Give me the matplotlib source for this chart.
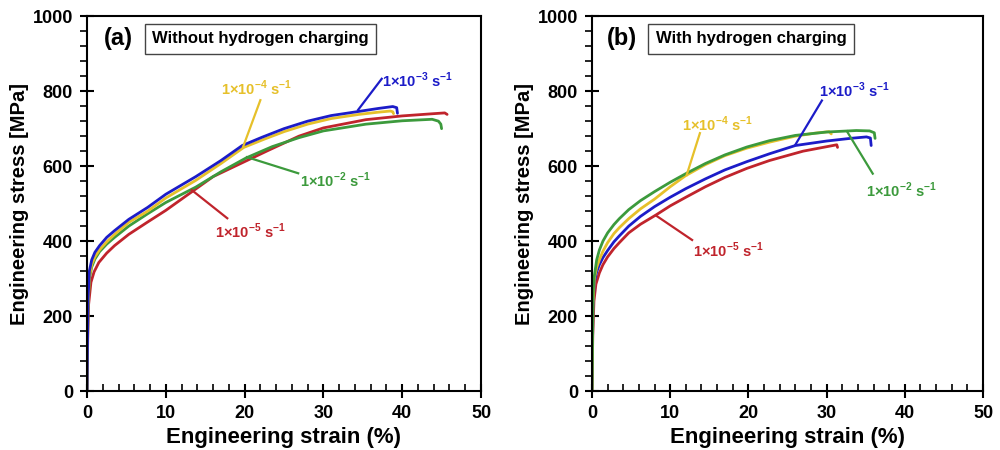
import numpy as np
import matplotlib
matplotlib.use('Agg')
import matplotlib.pyplot as plt
from matplotlib.ticker import MultipleLocator

plt.rcParams['font.family'] = ['Liberation Sans', 'DejaVu Sans']
plt.rcParams['font.weight'] = 'bold'
plt.rcParams['mathtext.fontset'] = 'custom'
plt.rcParams['mathtext.rm'] = 'Liberation Sans:bold'
plt.rcParams['mathtext.bf'] = 'Liberation Sans:bold'

#---- colours per strain rate
c_blue = '#1c1cc8'
c_yel = '#e6c02a'
c_grn = '#3c9a3c'
c_red = '#c0242c'

#---- (a) without hydrogen charging
a_e3_x = [0, 0.12, 0.3, 0.6, 1.0, 1.6, 2.5, 3.5, 5.3, 7.7, 10, 13.8, 17, 19.7, 22.2, 25, 28, 31, 34.5, 37, 38.8, 39.3, 39.4]
a_e3_y = [0, 240, 320, 350, 370, 388, 410, 428, 458, 490, 525, 572, 615, 655, 677, 700, 720, 735, 746, 754, 759, 756, 741]
a_e4_x = [0, 0.12, 0.3, 0.6, 1.0, 1.6, 2.5, 3.5, 5.3, 7.7, 10, 13.8, 17, 19.9, 22.5, 25, 28, 31, 34.5, 37, 38.5, 38.8, 38.9]
a_e4_y = [0, 225, 305, 338, 358, 377, 398, 418, 450, 480, 515, 562, 607, 650, 672, 692, 712, 727, 738, 744, 747, 745, 740]
a_e2_x = [0, 0.12, 0.3, 0.6, 1.0, 1.6, 2.5, 3.5, 5.3, 7.7, 10, 13.8, 17, 20.2, 23.5, 26.9, 30, 35.4, 40, 43.8, 44.6, 44.9, 45]
a_e2_y = [0, 215, 300, 331, 352, 372, 392, 410, 440, 473, 503, 544, 585, 622, 652, 676, 694, 712, 721, 725, 720, 712, 700]
a_e5_x = [0, 0.1, 0.2, 0.5, 0.9, 1.5, 2.5, 3.5, 5.3, 7.7, 10, 13.2, 16, 20.3, 23, 26.9, 30, 35.4, 40, 44, 45.4, 45.7]
a_e5_y = [0, 150, 230, 290, 318, 343, 368, 388, 418, 451, 482, 530, 572, 615, 642, 680, 702, 724, 734, 740, 742, 738]

#---- (b) with hydrogen charging
b_e3_x = [0, 0.12, 0.3, 0.6, 0.94, 1.4, 2, 2.8, 3.5, 4.7, 6.2, 8, 10, 12, 14.5, 17, 19.8, 22.7, 26, 30, 33, 35.1, 35.6, 35.7]
b_e3_y = [0, 220, 290, 318, 337, 356, 375, 398, 414, 440, 466, 492, 517, 540, 566, 590, 612, 633, 655, 667, 674, 678, 675, 655]
b_e4_x = [0, 0.12, 0.3, 0.6, 0.94, 1.4, 2, 2.8, 3.5, 4.7, 6.2, 8, 10, 12, 14.5, 17, 19.8, 22.7, 26, 28.5, 30.3, 30.6]
b_e4_y = [0, 230, 300, 330, 350, 373, 396, 420, 436, 460, 486, 512, 545, 575, 604, 628, 648, 664, 680, 688, 692, 686]
b_e2_x = [0, 0.12, 0.25, 0.6, 0.94, 1.4, 2, 2.8, 3.5, 4.7, 6.2, 8, 10, 12, 14.5, 17, 19.8, 22.7, 26, 30, 33.8, 35.5, 36.1, 36.2]
b_e2_y = [0, 250, 300, 350, 376, 400, 422, 444, 460, 484, 508, 532, 557, 580, 607, 630, 651, 668, 682, 691, 695, 694, 689, 674]
b_e5_x = [0, 0.1, 0.25, 0.5, 0.94, 1.4, 2, 2.8, 3.5, 4.7, 6.2, 8.2, 10, 12, 14.5, 17, 19.8, 22.7, 27, 30.8, 31.3, 31.4]
b_e5_y = [0, 150, 240, 285, 315, 337, 358, 380, 396, 422, 445, 470, 494, 517, 545, 570, 594, 615, 640, 655, 657, 650]

rate_labels = {'e3': r'1×10$^{\mathbf{-3}}$ s$^{\mathbf{-1}}$',
               'e4': r'1×10$^{\mathbf{-4}}$ s$^{\mathbf{-1}}$',
               'e2': r'1×10$^{\mathbf{-2}}$ s$^{\mathbf{-1}}$',
               'e5': r'1×10$^{\mathbf{-5}}$ s$^{\mathbf{-1}}$'}

# label text position, leader line start (on curve) and end (near text)
a_notes = [('e3', c_blue, (42.0, 829), (34.4, 750), (37.4, 833)),
           ('e4', c_yel, (21.5, 808), (19.8, 651), (22.0, 776)),
           ('e2', c_grn, (31.5, 563), (20.3, 624), (26.8, 581)),
           ('e5', c_red, (20.7, 427), (13.3, 536), (17.8, 461))]
b_notes = [('e3', c_blue, (33.6, 803), (26.0, 657), (29.4, 775)),
           ('e4', c_yel, (16.0, 712), (12.1, 576), (13.8, 688)),
           ('e2', c_grn, (39.6, 536), (32.6, 693), (35.9, 580)),
           ('e5', c_red, (17.4, 376), (8.2, 468), (12.8, 403))]

fig = plt.figure(figsize=(10, 4.5), dpi=100)
ax_a = fig.add_axes([0.087, 0.131, 0.394, 0.833])
ax_b = fig.add_axes([0.592, 0.131, 0.391, 0.833])


def style_axis(ax):
	ax.set_xlim(0, 50)
	ax.set_ylim(0, 1000)
	ax.xaxis.set_major_locator(MultipleLocator(10))
	ax.xaxis.set_minor_locator(MultipleLocator(2))
	ax.yaxis.set_major_locator(MultipleLocator(200))
	ax.yaxis.set_minor_locator(MultipleLocator(40))
	ax.tick_params(which='major', direction='inout', length=10, width=1.5, labelsize=13, pad=5)
	ax.tick_params(axis='x', which='minor', direction='in', length=5, width=1.2)
	ax.tick_params(axis='y', which='minor', direction='out', length=5, width=1.2)
	for sp in ax.spines.values():
		sp.set_linewidth(1.5)
	for lab in ax.get_xticklabels() + ax.get_yticklabels():
		lab.set_fontweight('bold')
	ax.set_xlabel('Engineering strain (%)', fontsize=16, fontweight='bold', labelpad=4)
	ax.set_ylabel('Engineering stress [MPa]', fontsize=14.5, fontweight='bold', labelpad=3)


def draw_panel(ax, curves, notes, tag, title, tag_x, box_x):
	for xs, ys, col in curves:
		ax.plot(xs, ys, color=col, lw=2.0, solid_capstyle='round', solid_joinstyle='round')
	for key, col, txt_pos, p0, p1 in notes:
		ax.plot([p0[0], p1[0]], [p0[1], p1[1]], color=col, lw=1.6)
		ax.text(txt_pos[0], txt_pos[1], rate_labels[key], color=col, fontsize=10.5,
			fontweight='bold', ha='center', va='center')
	ax.text(tag_x, 0.94, tag, transform=ax.transAxes, fontsize=17, fontweight='bold',
		ha='center', va='center')
	ax.text(box_x, 0.94, title, transform=ax.transAxes, fontsize=12, fontweight='bold',
		ha='center', va='center',
		bbox=dict(boxstyle='square,pad=0.45', fc='white', ec='#444444', lw=1.0))
	style_axis(ax)


draw_panel(ax_a,
	[(a_e5_x, a_e5_y, c_red), (a_e2_x, a_e2_y, c_grn), (a_e4_x, a_e4_y, c_yel), (a_e3_x, a_e3_y, c_blue)],
	a_notes, '(a)', 'Without hydrogen charging', 0.079, 0.44)
draw_panel(ax_b,
	[(b_e5_x, b_e5_y, c_red), (b_e3_x, b_e3_y, c_blue), (b_e4_x, b_e4_y, c_yel), (b_e2_x, b_e2_y, c_grn)],
	b_notes, '(b)', 'With hydrogen charging', 0.077, 0.407)

fig.savefig('out.png', dpi=100)
plt.close()
